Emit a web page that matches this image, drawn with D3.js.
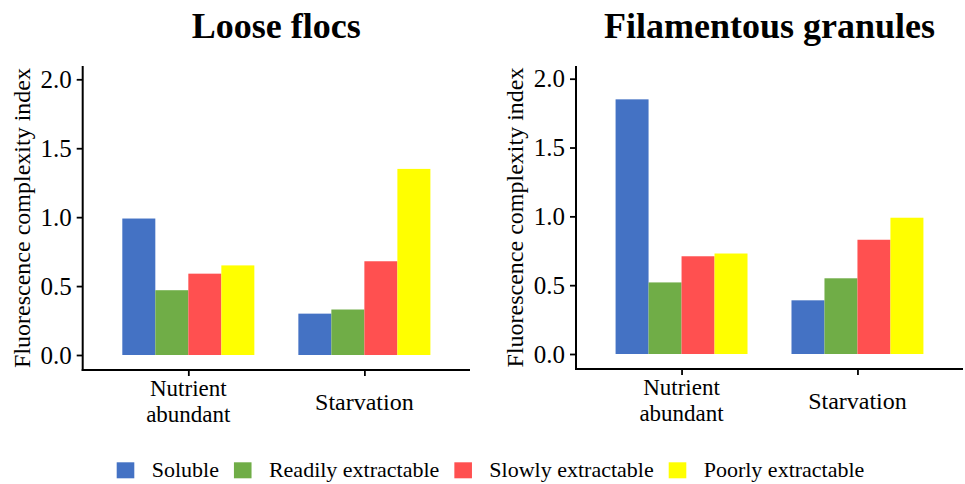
<!DOCTYPE html>
<html>
<head>
<meta charset="utf-8">
<script src="https://cdn.jsdelivr.net/npm/d3@7"></script>
<style>
  html, body { margin: 0; padding: 0; background: #fff; }
  svg { display: block; }
  svg text { font-family: "Liberation Serif", "Times New Roman", Times, serif; }
</style>
</head>
<body>
<svg id="chart" width="965" height="484"></svg>
<script>
const categories = ["Nutrient abundant", "Starvation"];
const categoryLines = [["Nutrient", "abundant"], ["Starvation"]];
const seriesNames = ["Soluble", "Readily extractable", "Slowly extractable", "Poorly extractable"];
const seriesColors = ["#4472C4", "#70AD47", "#FF5050", "#FFFF00"];
const panelTitles = ["Loose flocs", "Filamentous granules"];
const yTicks = [0, 0.5, 1.0, 1.5, 2.0];
// values[series][category]
const looseFlocs = [
  [0.99, 0.30],
  [0.47, 0.33],
  [0.59, 0.68],
  [0.65, 1.35]
];
const filamentousGranules = [
  [1.85, 0.39],
  [0.52, 0.55],
  [0.71, 0.83],
  [0.73, 0.99]
];
const panelData = [looseFlocs, filamentousGranules];

const svg = d3.select("#chart");
const FONT = "'Liberation Serif', 'Times New Roman', serif";
const panels = [
  { left: 82.7, right: 470, top: 66, bottom: 370, y0: 355, y2: 79.3, labelX: 29.5 },
  { left: 576, right: 963, top: 66, bottom: 369, y0: 354, y2: 78.7, labelX: 523 }
];

panels.forEach((p, pi) => {
  const g = svg.append("g");
  const data = panelData[pi];
  const y = d3.scaleLinear().domain([0, 2]).range([p.y0, p.y2]);
  const x = d3.scalePoint().domain(categories).range([p.left, p.right]).padding(0.6);
  const step = x.step();
  const inner = d3.scaleBand().domain(seriesNames).range([-0.375 * step, 0.375 * step]).padding(0);

  // bars
  seriesNames.forEach((s, si) => {
    g.selectAll(null)
      .data(categories.map((c, ci) => ({ c, v: data[si][ci] })))
      .enter().append("rect")
      .attr("x", d => x(d.c) + inner(s))
      .attr("width", inner.bandwidth())
      .attr("y", d => y(d.v))
      .attr("height", d => y(0) - y(d.v))
      .attr("fill", seriesColors[si]);
  });

  // y axis
  const yAxis = d3.axisLeft(y).tickValues(yTicks).tickFormat(d3.format(".1f")).tickSizeOuter(0).tickSize(6).tickPadding(5);
  const ya = g.append("g").attr("transform", `translate(${p.left},0)`).call(yAxis)
    .attr("font-family", FONT).attr("font-size", 25);
  ya.select(".domain").remove();
  ya.selectAll(".tick line").attr("stroke", "#000").attr("stroke-width", 1.8);
  ya.selectAll(".tick text").attr("fill", "#000").style("font-family", FONT).style("font-size", "25px");
  g.append("line").attr("x1", p.left).attr("x2", p.left).attr("y1", p.top).attr("y2", p.bottom + 1)
    .attr("stroke", "#000").attr("stroke-width", 2);

  // x axis
  const xAxis = d3.axisBottom(x).tickSize(6).tickSizeOuter(0).tickFormat("");
  const xa = g.append("g").attr("transform", `translate(0,${p.bottom})`).call(xAxis);
  xa.select(".domain").remove();
  xa.selectAll(".tick line").attr("stroke", "#000").attr("stroke-width", 1.8);
  g.append("line").attr("x1", p.left - 1).attr("x2", p.right).attr("y1", p.bottom).attr("y2", p.bottom)
    .attr("stroke", "#000").attr("stroke-width", 2);

  categories.forEach((c, ci) => {
    const lines = categoryLines[ci];
    const fs = lines.length === 1 ? 24 : 23;
    const firstBase = lines.length === 1 ? p.bottom + 40 : p.bottom + 26.3;
    lines.forEach((ln, li) => {
      g.append("text").attr("text-anchor", "middle").style("font-family", FONT).style("font-size", fs + "px")
        .attr("fill", "#000").attr("x", x(c)).attr("y", firstBase + li * 25.6).text(ln);
    });
  });

  // y label
  g.append("text")
    .attr("transform", `translate(${p.labelX},${(p.top + p.bottom) / 2}) rotate(-90)`)
    .attr("text-anchor", "middle").style("font-family", FONT).style("font-size", "24px").attr("fill", "#000")
    .text("Fluorescence complexity index");

  // title
  g.append("text").attr("x", (p.left + p.right) / 2).attr("y", 38)
    .attr("text-anchor", "middle").style("font-family", FONT).style("font-size", "36px")
    .style("font-weight", "bold").attr("fill", "#000")
    .text(panelTitles[pi]);
});

// legend
const legend = svg.append("g");
let lx = 116.7;
seriesNames.forEach((s, si) => {
  legend.append("rect").attr("x", lx).attr("y", 462.3).attr("width", 17.6).attr("height", 16).attr("fill", seriesColors[si]);
  const t = legend.append("text").attr("x", lx + 35).attr("y", 477).style("font-family", FONT)
    .style("font-size", "22px").attr("fill", "#000").text(s);
  const w = t.node().getComputedTextLength();
  lx = lx + 35 + w + 15;
});
</script>
</body>
</html>
